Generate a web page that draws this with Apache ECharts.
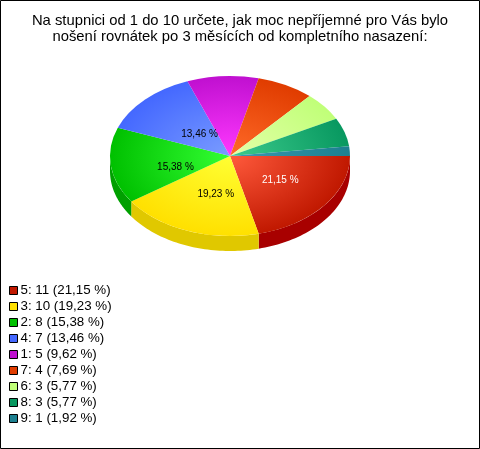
<!DOCTYPE html>
<html><head><meta charset="utf-8">
<style>html,body{margin:0;padding:0;background:#fff}#c{width:480px;height:449px}</style>
<script src="https://cdn.jsdelivr.net/npm/echarts@6/dist/echarts.min.js"></script>
</head><body><div id="c"></div>
<script>
var titleLines = ['Na stupnici od 1 do 10 určete, jak moc nepříjemné pro Vás bylo','nošení rovnátek po 3 měsících od kompletního nasazení:'];
var categories = ['5','3','2','4','1','7','6','8','9'];
var values = [11,10,8,7,5,4,3,3,1];
var total = values.reduce(function(a,b){return a+b;},0);

// style tables
var inner = ['#ff5a3c','#ffff33','#33ff33','#7a9cff','#ff38ff','#ff6a28','#e4ffa8','#3ccb8c','#3c98b0'];
var outer = ['#c01800','#ffe000','#00c000','#4468ff','#c010d0','#e03c00','#c0ff78','#089860','#1c8090'];
var sides = ['#a80000','#e0c800','#00a000','#3450c0','#9000a0','#a82c00','#90c060','#067048','#146070'];
var labelColor = ['#fff','#000','#000','#000'];
var labelNudge = [[3,0],[7,1],[5,6],[12,7]];

var cx = 230, cy = 156, rx = 120, ry = 80, depth = 15;
var tau = Math.PI*2;

function pctText(v){ return (v/total*100).toFixed(2).replace('.',',')+' %'; }

function renderSlice(i){
  return function(params, api){
    var before = 0;
    for (var k=0;k<i;k++) before += values[k];
    var a0 = before/total*tau, a1 = (before+api.value(0))/total*tau;
    var children = [];
    var s0 = Math.max(a0,0), s1 = Math.min(a1,Math.PI);
    if (s1 > s0) {
      var top = [], bottom = [];
      for (var n=0;n<=48;n++){
        var t = s0+(s1-s0)*n/48;
        top.push([cx+rx*Math.cos(t), cy+ry*Math.sin(t)]);
        bottom.unshift([cx+rx*Math.cos(t), cy+depth+ry*Math.sin(t)]);
      }
      children.push({type:'polygon',shape:{points:top.concat(bottom)},style:{fill:sides[i]}});
    }
    children.push({
      type:'sector', x:cx, y:cy, scaleY:ry/rx,
      shape:{cx:0,cy:0,r0:0,r:rx,startAngle:a0,endAngle:a1,clockwise:true},
      style:{fill:{type:'radial',x:0,y:0,r:rx,global:true,colorStops:[{offset:0,color:inner[i]},{offset:1,color:outer[i]}]}}
    });
    if (i < labelColor.length) {
      var m = (a0+a1)/2;
      children.push({
        type:'text', z2:100,
        style:{text:pctText(api.value(0)),
          x:cx+rx*0.5*Math.cos(m)+labelNudge[i][0], y:cy+ry*0.5*Math.sin(m)+labelNudge[i][1],
          align:'center',verticalAlign:'middle',fill:labelColor[i],font:'10px "Liberation Sans", Arial, sans-serif'}
      });
    }
    return {type:'group',children:children};
  };
}

var names = categories.map(function(c,i){ return c+': '+values[i]+' ('+pctText(values[i])+')'; });

var chart = echarts.init(document.getElementById('c'),null,{renderer:'canvas'});
chart.setOption({
  animation:false,
  backgroundColor:'#fff',
  title:{text:titleLines.join('\n'),left:235,top:8,textAlign:'center',
    textStyle:{fontFamily:'"Liberation Sans", Arial, sans-serif',fontSize:14.8,fontWeight:'normal',color:'#000',lineHeight:16}},
  legend:{orient:'vertical',left:9,top:283,padding:0,itemWidth:8,itemHeight:8,itemGap:1,icon:'rect',selectedMode:false,
    itemStyle:{borderColor:'#000',borderWidth:1},
    textStyle:{fontFamily:'"Liberation Sans", Arial, sans-serif',fontSize:13.33,color:'#000',lineHeight:15,padding:[0,0,0,-2]},
    data:names},
  graphic:[{type:'rect',shape:{x:0.5,y:0.5,width:479,height:448},style:{fill:'none',stroke:'#000',lineWidth:1},z:100}],
  series:values.map(function(v,i){
    return {type:'custom',name:names[i],coordinateSystem:'none',data:[[v]],
      itemStyle:{color:outer[i]},renderItem:renderSlice(i),silent:true};
  })
});
</script></body></html>
